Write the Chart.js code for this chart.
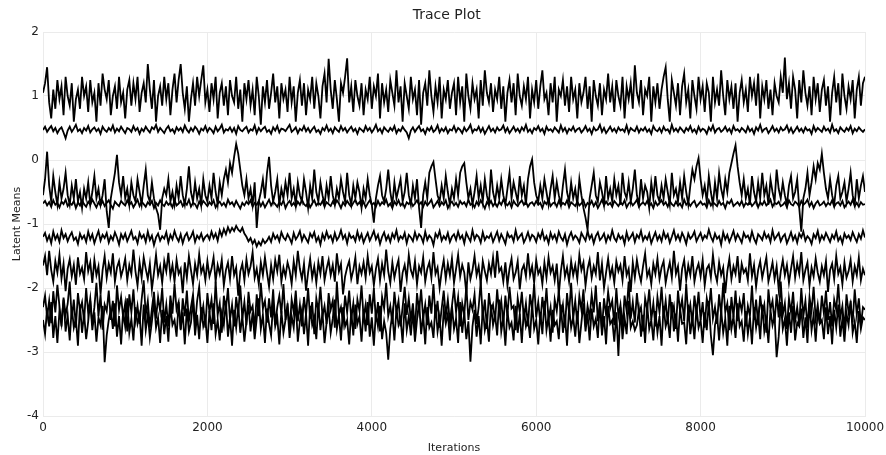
<!DOCTYPE html>
<html>
<head>
<meta charset="utf-8">
<script src="https://cdn.jsdelivr.net/npm/chart.js@4/dist/chart.umd.min.js"></script>
<style>
html,body{margin:0;padding:0;background:#fff;}
#wrap{width:886px;height:455px;}
</style>
</head>
<body>
<div id="wrap"><canvas id="c" width="886" height="455"></canvas></div>
<script>
// Iteration step between stored draws (0..10000)
const iterStep = 25;
const xTicks = [0, 2000, 4000, 6000, 8000, 10000];
const yTicks = [-4, -3, -2, -1, 0, 1, 2];

const seriesA = [
1.05,1.2,1.45,0.9,0.65,1.1,0.8,1.25,0.95,1.15,0.7,1.3,1.0,0.85,1.2,0.6,0.95,1.1,0.8,1.3,
1.0,1.15,0.75,1.25,0.9,1.05,0.6,1.2,0.85,1.35,1.1,0.95,1.25,0.7,1.0,1.15,0.8,1.3,0.9,1.05,
0.65,1.1,1.25,0.85,1.2,0.95,1.3,0.75,1.05,1.2,0.9,1.5,1.1,0.8,1.25,0.6,1.0,1.15,0.85,1.3,
0.95,1.2,0.7,1.1,1.35,0.9,1.25,1.5,1.05,0.8,1.15,0.6,0.95,1.2,0.85,1.3,1.0,1.25,1.48,0.9,
1.1,0.75,1.2,0.95,1.3,0.65,1.05,1.2,0.85,1.15,0.7,1.25,1.0,0.9,1.3,0.8,1.1,0.6,1.2,0.95,
1.25,0.85,1.1,0.7,1.3,1.0,0.55,1.15,0.9,1.25,0.8,1.05,1.35,0.9,1.15,0.65,1.2,0.95,1.1,0.75,
1.3,0.9,1.15,0.6,1.05,1.25,0.85,1.2,0.7,1.1,0.95,1.3,0.8,1.2,1.0,0.65,1.15,1.35,0.9,1.58,
1.1,0.8,1.25,0.95,0.6,1.2,1.05,1.3,1.59,0.9,1.15,0.75,1.25,1.0,0.85,1.2,0.7,1.1,0.95,1.3,
0.8,1.15,1.0,1.35,0.65,1.2,0.9,1.1,0.75,1.25,1.05,0.85,1.4,0.9,1.15,0.6,1.2,1.0,0.8,1.3,
0.95,1.1,0.7,1.25,0.55,1.05,1.2,0.85,1.4,1.0,0.75,1.15,0.9,1.3,0.65,1.1,0.95,1.25,0.8,1.05,
1.2,0.7,1.3,0.9,1.15,0.6,1.35,1.0,0.8,1.2,0.95,1.1,0.65,1.25,0.85,1.4,1.05,0.9,1.2,0.75,
1.1,0.95,1.3,0.8,1.15,0.6,1.05,1.25,0.9,1.2,0.7,1.35,1.0,0.85,1.15,0.95,1.3,0.65,1.1,0.9,
1.25,0.8,1.15,1.4,0.95,1.05,0.7,1.2,0.9,1.3,0.6,1.1,1.0,1.25,0.85,1.15,0.75,1.3,0.95,1.1,
0.65,1.2,0.9,1.05,1.3,0.8,1.15,0.6,1.25,1.0,0.85,1.2,0.7,1.1,0.95,1.35,0.9,1.15,0.75,1.25,
1.0,0.85,1.3,0.65,1.15,0.95,1.2,0.8,1.48,1.05,0.9,1.25,0.7,1.1,1.0,1.3,0.6,1.15,0.9,1.2,
0.8,1.1,1.3,1.45,0.95,0.6,1.25,1.05,0.85,1.2,0.7,1.15,1.35,0.9,1.1,0.65,1.25,1.0,0.8,1.3,
0.95,1.15,0.75,1.2,1.05,0.6,1.3,0.9,1.1,0.85,1.4,1.0,0.7,1.25,0.95,1.15,0.8,1.2,0.6,1.05,
1.25,0.9,1.1,0.75,1.3,1.0,1.2,0.85,1.35,0.65,1.15,0.95,1.25,0.8,1.1,0.7,1.2,1.0,0.9,1.3,
1.05,1.6,0.95,1.2,0.8,1.3,1.1,0.65,1.25,0.9,1.4,1.05,0.85,1.15,0.7,1.3,0.95,1.2,0.75,1.1,
1.25,0.85,1.15,0.6,1.05,1.3,0.9,1.2,0.7,1.35,1.0,0.8,1.15,0.95,1.25,0.65,1.1,1.3,0.85,1.2,
1.3];

const seriesB = [
0.47,0.52,0.44,0.49,0.53,0.45,0.5,0.42,0.48,0.51,0.43,0.34,0.46,0.52,0.44,0.49,0.55,0.45,0.48,0.42,
0.5,0.46,0.53,0.43,0.48,0.51,0.45,0.49,0.41,0.52,0.47,0.44,0.5,0.46,0.54,0.43,0.49,0.45,0.52,0.47,
0.42,0.5,0.48,0.44,0.53,0.46,0.5,0.41,0.49,0.45,0.52,0.47,0.43,0.51,0.48,0.55,0.44,0.5,0.46,0.42,
0.49,0.53,0.45,0.48,0.42,0.51,0.46,0.5,0.44,0.54,0.47,0.43,0.5,0.45,0.52,0.48,0.41,0.49,0.46,0.53,
0.44,0.5,0.47,0.42,0.52,0.45,0.49,0.55,0.43,0.48,0.46,0.51,0.44,0.5,0.41,0.53,0.47,0.45,0.49,0.52,
0.43,0.48,0.46,0.54,0.42,0.5,0.45,0.49,0.52,0.44,0.47,0.41,0.51,0.46,0.53,0.43,0.49,0.48,0.45,0.5,
0.55,0.44,0.47,0.51,0.42,0.49,0.46,0.53,0.45,0.5,0.43,0.48,0.52,0.44,0.47,0.41,0.5,0.46,0.54,0.45,
0.49,0.42,0.51,0.47,0.44,0.53,0.46,0.5,0.43,0.48,0.52,0.45,0.49,0.41,0.5,0.47,0.44,0.53,0.46,0.5,
0.43,0.48,0.55,0.45,0.49,0.42,0.51,0.47,0.44,0.5,0.46,0.53,0.42,0.48,0.45,0.52,0.47,0.43,0.34,0.46,
0.51,0.44,0.49,0.53,0.45,0.48,0.41,0.5,0.46,0.52,0.44,0.47,0.54,0.43,0.49,0.45,0.51,0.42,0.48,0.46,
0.53,0.44,0.5,0.47,0.42,0.51,0.45,0.49,0.55,0.43,0.48,0.46,0.52,0.44,0.5,0.41,0.47,0.53,0.45,0.49,
0.43,0.51,0.46,0.48,0.54,0.44,0.5,0.42,0.47,0.52,0.45,0.49,0.43,0.51,0.46,0.55,0.44,0.48,0.42,0.5,
0.47,0.53,0.45,0.49,0.41,0.52,0.46,0.48,0.44,0.51,0.47,0.43,0.54,0.45,0.5,0.42,0.49,0.46,0.52,0.44,
0.48,0.5,0.43,0.47,0.53,0.45,0.49,0.41,0.51,0.46,0.48,0.55,0.44,0.5,0.42,0.47,0.52,0.45,0.49,0.43,
0.51,0.46,0.48,0.44,0.54,0.42,0.5,0.47,0.45,0.52,0.43,0.49,0.46,0.51,0.44,0.48,0.41,0.53,0.47,0.45,
0.5,0.43,0.52,0.46,0.48,0.42,0.55,0.45,0.49,0.44,0.51,0.47,0.43,0.5,0.46,0.53,0.44,0.48,0.42,0.52,
0.45,0.49,0.47,0.41,0.51,0.46,0.54,0.43,0.48,0.5,0.44,0.47,0.52,0.45,0.49,0.42,0.53,0.46,0.48,0.44,
0.5,0.47,0.43,0.52,0.45,0.49,0.41,0.51,0.46,0.55,0.44,0.48,0.5,0.42,0.47,0.53,0.45,0.49,0.43,0.51,
0.46,0.48,0.54,0.44,0.5,0.42,0.47,0.52,0.45,0.49,0.43,0.51,0.46,0.48,0.41,0.53,0.45,0.5,0.47,0.44,
0.52,0.46,0.49,0.43,0.55,0.45,0.48,0.42,0.51,0.47,0.44,0.5,0.46,0.53,0.42,0.49,0.45,0.51,0.47,0.44,
0.48];

const seriesC = [
-0.55,-0.3,0.13,-0.4,-0.65,-0.25,-0.5,-0.7,-0.35,-0.6,-0.45,-0.2,-0.55,-0.7,-0.4,-0.6,-0.3,-0.65,-0.5,-0.75,
-0.45,-0.6,-0.35,-0.7,-0.5,-0.25,-0.6,-0.45,-0.7,-0.55,-0.3,-0.8,-1.06,-0.6,-0.4,-0.2,0.08,-0.35,-0.55,-0.25,
-0.6,-0.45,-0.7,-0.35,-0.55,-0.65,-0.3,-0.5,-0.7,-0.4,-0.15,-0.55,-0.65,-0.35,-0.6,-0.75,-0.85,-1.09,-0.6,-0.45,
-0.55,-0.3,-0.65,-0.5,-0.7,-0.4,-0.6,-0.25,-0.55,-0.7,-0.45,-0.1,-0.5,-0.65,-0.35,-0.6,-0.45,-0.7,-0.3,-0.55,
-0.65,-0.4,-0.6,-0.2,-0.5,-0.7,-0.35,-0.55,-0.3,-0.15,-0.35,-0.05,-0.2,0.05,0.25,0.1,-0.15,-0.4,-0.55,-0.3,
-0.6,-0.45,-0.7,-0.35,-1.06,-0.65,-0.5,-0.3,-0.6,-0.2,0.05,-0.4,-0.65,-0.5,-0.3,-0.7,-0.45,-0.6,-0.35,-0.55,
-0.2,-0.6,-0.45,-0.7,-0.35,-0.55,-0.65,-0.3,-0.5,-0.75,-0.4,-0.6,-0.15,-0.5,-0.65,-0.35,-0.55,-0.7,-0.4,-0.6,
-0.25,-0.55,-0.7,-0.45,-0.6,-0.3,-0.5,-0.65,-0.2,-0.55,-0.7,-0.4,-0.6,-0.35,-0.5,-0.75,-0.45,-0.6,-0.3,-0.55,
-0.7,-0.98,-0.6,-0.4,-0.25,-0.55,-0.65,-0.45,-0.15,-0.5,-0.7,-0.35,-0.6,-0.45,-0.3,-0.65,-0.5,-0.2,-0.55,-0.7,
-0.4,-0.6,-0.3,-0.75,-1.06,-0.55,-0.35,-0.6,-0.2,-0.1,-0.03,-0.3,-0.55,-0.65,-0.4,-0.6,-0.25,-0.5,-0.7,-0.45,
-0.6,-0.3,-0.55,-0.2,-0.1,-0.05,-0.35,-0.6,-0.45,-0.7,-0.5,-0.25,-0.6,-0.4,-0.65,-0.3,-0.55,-0.7,-0.15,-0.5,
-0.65,-0.4,-0.6,-0.3,-0.55,-0.7,-0.45,-0.2,-0.6,-0.35,-0.5,-0.65,-0.25,-0.55,-0.4,-0.7,-0.3,-0.1,0.01,-0.35,
-0.55,-0.65,-0.4,-0.6,-0.3,-0.5,-0.7,-0.45,-0.25,-0.6,-0.35,-0.55,-0.7,-0.4,-0.15,-0.5,-0.65,-0.35,-0.6,-0.45,
-0.7,-0.3,-0.55,-0.75,-0.9,-1.09,-0.6,-0.4,-0.2,-0.55,-0.65,-0.35,-0.5,-0.7,-0.25,-0.6,-0.45,-0.65,-0.3,-0.55,
-0.4,-0.7,-0.2,-0.5,-0.6,-0.35,-0.65,-0.45,-0.15,-0.55,-0.7,-0.3,-0.6,-0.4,-0.5,-0.75,-0.35,-0.6,-0.25,-0.55,
-0.65,-0.4,-0.6,-0.3,-0.5,-0.7,-0.2,-0.55,-0.45,-0.65,-0.35,-0.6,-0.25,-0.5,-0.7,-0.4,-0.15,-0.3,-0.1,0.03,
-0.3,-0.55,-0.4,-0.65,-0.25,-0.5,-0.7,-0.35,-0.6,-0.2,-0.45,-0.6,-0.3,-0.5,-0.2,-0.05,0.1,0.23,-0.1,-0.35,
-0.55,-0.3,-0.6,-0.45,-0.7,-0.25,-0.5,-0.65,-0.35,-0.6,-0.2,-0.55,-0.4,-0.7,-0.3,-0.5,-0.65,-0.15,-0.45,-0.6,
-0.35,-0.55,-0.7,-0.4,-0.25,-0.6,-0.5,-0.3,-0.75,-1.12,-0.6,-0.45,-0.2,-0.55,-0.35,-0.1,-0.3,-0.05,-0.15,0.1,
-0.2,-0.45,-0.6,-0.3,-0.55,-0.7,-0.4,-0.25,-0.6,-0.5,-0.35,-0.65,-0.45,-0.2,-0.55,-0.7,-0.3,-0.6,-0.4,-0.25,
-0.5];

const seriesD = [
-0.68,-0.64,-0.71,-0.66,-0.73,-0.63,-0.7,-0.67,-0.74,-0.65,-0.69,-0.62,-0.72,-0.67,-0.7,-0.64,-0.75,-0.66,-0.71,-0.63,
-0.69,-0.73,-0.65,-0.7,-0.62,-0.68,-0.74,-0.66,-0.71,-0.64,-0.72,-0.67,-0.63,-0.7,-0.76,-0.65,-0.69,-0.72,-0.64,-0.68,
-0.71,-0.63,-0.7,-0.66,-0.74,-0.68,-0.62,-0.72,-0.65,-0.69,-0.73,-0.66,-0.7,-0.64,-0.75,-0.67,-0.71,-0.63,-0.69,-0.72,
-0.65,-0.7,-0.67,-0.74,-0.63,-0.71,-0.68,-0.64,-0.72,-0.66,-0.7,-0.62,-0.73,-0.67,-0.69,-0.75,-0.65,-0.71,-0.64,-0.68,
-0.72,-0.66,-0.7,-0.63,-0.74,-0.68,-0.65,-0.71,-0.67,-0.73,-0.62,-0.69,-0.66,-0.72,-0.64,-0.7,-0.76,-0.67,-0.71,-0.65,
-0.69,-0.63,-0.73,-0.67,-0.7,-0.64,-0.72,-0.66,-0.74,-0.68,-0.62,-0.71,-0.65,-0.69,-0.73,-0.66,-0.7,-0.63,-0.75,-0.68,
-0.64,-0.71,-0.67,-0.73,-0.65,-0.7,-0.62,-0.69,-0.72,-0.66,-0.74,-0.68,-0.63,-0.71,-0.67,-0.7,-0.64,-0.73,-0.66,-0.69,
-0.72,-0.65,-0.7,-0.63,-0.68,-0.75,-0.66,-0.71,-0.64,-0.69,-0.73,-0.67,-0.62,-0.7,-0.66,-0.72,-0.65,-0.74,-0.68,-0.63,
-0.7,-0.67,-0.73,-0.64,-0.71,-0.66,-0.69,-0.62,-0.72,-0.68,-0.75,-0.65,-0.7,-0.63,-0.71,-0.67,-0.74,-0.66,-0.69,-0.64,
-0.72,-0.68,-0.63,-0.7,-0.66,-0.73,-0.65,-0.71,-0.67,-0.62,-0.74,-0.69,-0.64,-0.72,-0.66,-0.7,-0.63,-0.75,-0.68,-0.65,
-0.71,-0.67,-0.73,-0.64,-0.69,-0.66,-0.72,-0.62,-0.7,-0.68,-0.74,-0.65,-0.71,-0.63,-0.69,-0.76,-0.66,-0.7,-0.64,-0.72,
-0.67,-0.73,-0.65,-0.7,-0.62,-0.68,-0.71,-0.66,-0.74,-0.64,-0.69,-0.72,-0.67,-0.63,-0.7,-0.65,-0.73,-0.68,-0.66,-0.71,
-0.64,-0.7,-0.67,-0.75,-0.65,-0.69,-0.62,-0.72,-0.68,-0.66,-0.73,-0.64,-0.71,-0.67,-0.7,-0.63,-0.74,-0.66,-0.69,-0.72,
-0.65,-0.71,-0.68,-0.63,-0.73,-0.67,-0.7,-0.64,-0.72,-0.66,-0.75,-0.69,-0.62,-0.71,-0.65,-0.7,-0.67,-0.73,-0.64,-0.68,
-0.72,-0.66,-0.7,-0.63,-0.74,-0.68,-0.65,-0.71,-0.67,-0.62,-0.73,-0.69,-0.66,-0.7,-0.64,-0.72,-0.68,-0.75,-0.65,-0.71,
-0.67,-0.63,-0.7,-0.66,-0.73,-0.64,-0.69,-0.72,-0.65,-0.71,-0.68,-0.74,-0.62,-0.7,-0.66,-0.72,-0.67,-0.64,-0.73,-0.69,
-0.65,-0.7,-0.68,-0.74,-0.63,-0.71,-0.66,-0.69,-0.72,-0.64,-0.7,-0.67,-0.75,-0.65,-0.68,-0.62,-0.72,-0.69,-0.66,-0.71,
-0.64,-0.73,-0.67,-0.7,-0.65,-0.72,-0.68,-0.63,-0.74,-0.66,-0.7,-0.64,-0.71,-0.68,-0.62,-0.73,-0.67,-0.69,-0.65,-0.72,
-0.7,-0.66,-0.74,-0.63,-0.69,-0.71,-0.65,-0.68,-0.73,-0.64,-0.7,-0.67,-0.62,-0.72,-0.66,-0.75,-0.68,-0.64,-0.71,-0.69,
-0.65,-0.72,-0.67,-0.7,-0.63,-0.73,-0.68,-0.66,-0.71,-0.64,-0.74,-0.69,-0.65,-0.7,-0.62,-0.72,-0.67,-0.73,-0.66,-0.7,
-0.69];

const seriesE = [
-1.2,-1.14,-1.26,-1.18,-1.3,-1.12,-1.24,-1.17,-1.28,-1.1,-1.22,-1.16,-1.27,-1.19,-1.13,-1.25,-1.21,-1.31,-1.15,-1.23,
-1.18,-1.28,-1.12,-1.24,-1.16,-1.3,-1.2,-1.11,-1.26,-1.17,-1.22,-1.14,-1.29,-1.19,-1.25,-1.13,-1.21,-1.32,-1.16,-1.23,
-1.15,-1.27,-1.19,-1.11,-1.24,-1.2,-1.3,-1.14,-1.22,-1.17,-1.28,-1.12,-1.25,-1.18,-1.33,-1.21,-1.15,-1.26,-1.19,-1.23,
-1.13,-1.29,-1.17,-1.24,-1.11,-1.21,-1.27,-1.16,-1.3,-1.19,-1.14,-1.25,-1.2,-1.12,-1.28,-1.18,-1.23,-1.15,-1.26,-1.2,
-1.17,-1.24,-1.12,-1.22,-1.15,-1.26,-1.1,-1.19,-1.08,-1.16,-1.05,-1.13,-1.06,-1.11,-1.03,-1.09,-1.12,-1.06,-1.15,-1.2,
-1.27,-1.22,-1.31,-1.25,-1.35,-1.28,-1.33,-1.24,-1.3,-1.26,-1.2,-1.28,-1.15,-1.23,-1.18,-1.27,-1.13,-1.21,-1.25,-1.16,
-1.22,-1.3,-1.14,-1.24,-1.19,-1.11,-1.26,-1.17,-1.23,-1.29,-1.15,-1.21,-1.13,-1.27,-1.2,-1.32,-1.16,-1.24,-1.12,-1.22,
-1.18,-1.28,-1.14,-1.25,-1.2,-1.1,-1.23,-1.17,-1.3,-1.15,-1.22,-1.19,-1.27,-1.12,-1.24,-1.16,-1.29,-1.21,-1.14,-1.26,
-1.19,-1.11,-1.24,-1.17,-1.31,-1.2,-1.13,-1.25,-1.18,-1.28,-1.15,-1.22,-1.1,-1.26,-1.19,-1.23,-1.14,-1.3,-1.17,-1.21,
-1.27,-1.13,-1.24,-1.16,-1.2,-1.29,-1.12,-1.25,-1.18,-1.22,-1.33,-1.15,-1.21,-1.11,-1.26,-1.19,-1.24,-1.14,-1.28,-1.2,
-1.16,-1.25,-1.12,-1.23,-1.18,-1.3,-1.14,-1.21,-1.27,-1.1,-1.24,-1.17,-1.2,-1.29,-1.13,-1.25,-1.19,-1.22,-1.15,-1.28,
-1.2,-1.12,-1.26,-1.16,-1.23,-1.31,-1.14,-1.21,-1.18,-1.27,-1.1,-1.24,-1.19,-1.15,-1.29,-1.22,-1.13,-1.25,-1.17,-1.2,
-1.28,-1.15,-1.22,-1.11,-1.25,-1.19,-1.3,-1.14,-1.23,-1.17,-1.27,-1.12,-1.21,-1.26,-1.16,-1.32,-1.2,-1.13,-1.24,-1.18,
-1.22,-1.29,-1.14,-1.2,-1.26,-1.11,-1.23,-1.17,-1.3,-1.19,-1.13,-1.25,-1.21,-1.15,-1.28,-1.18,-1.24,-1.1,-1.22,-1.27,
-1.16,-1.23,-1.19,-1.31,-1.13,-1.25,-1.2,-1.14,-1.28,-1.17,-1.22,-1.11,-1.26,-1.19,-1.24,-1.15,-1.3,-1.21,-1.13,-1.25,
-1.18,-1.27,-1.12,-1.22,-1.16,-1.29,-1.2,-1.1,-1.24,-1.17,-1.26,-1.14,-1.21,-1.31,-1.15,-1.23,-1.19,-1.12,-1.27,-1.2,
-1.14,-1.25,-1.18,-1.22,-1.09,-1.2,-1.27,-1.15,-1.23,-1.19,-1.32,-1.13,-1.24,-1.17,-1.28,-1.2,-1.11,-1.25,-1.16,-1.22,
-1.29,-1.14,-1.21,-1.18,-1.26,-1.12,-1.23,-1.3,-1.16,-1.2,-1.25,-1.13,-1.22,-1.17,-1.28,-1.1,-1.24,-1.19,-1.14,-1.27,
-1.2,-1.16,-1.3,-1.22,-1.13,-1.25,-1.18,-1.29,-1.15,-1.21,-1.12,-1.26,-1.19,-1.23,-1.31,-1.16,-1.22,-1.11,-1.27,-1.18,
-1.24,-1.14,-1.21,-1.28,-1.17,-1.23,-1.12,-1.26,-1.2,-1.3,-1.15,-1.22,-1.18,-1.25,-1.13,-1.21,-1.28,-1.16,-1.23,-1.1,
-1.21];

const seriesF = [
-1.65,-1.5,-1.8,-1.42,-1.72,-1.9,-1.58,-1.76,-1.48,-1.85,-1.62,-2.05,-1.7,-1.55,-1.82,-1.64,-1.95,-1.52,-1.78,-1.68,
-1.86,-1.44,-1.74,-1.6,-1.92,-1.56,-1.8,-1.66,-2.1,-1.72,-1.5,-1.84,-1.62,-1.76,-1.46,-1.9,-1.68,-1.58,-1.82,-1.7,
-1.54,-1.88,-1.64,-1.78,-1.4,-1.74,-1.96,-1.6,-1.84,-1.52,-1.7,-1.86,-1.62,-2.02,-1.76,-1.48,-1.8,-1.66,-1.92,-1.58,
-1.74,-1.45,-1.82,-1.64,-1.9,-1.56,-1.78,-1.7,-2.08,-1.6,-1.84,-1.5,-1.72,-1.94,-1.62,-1.8,-1.47,-1.76,-1.66,-1.88,
-1.58,-1.82,-1.7,-1.52,-1.9,-1.64,-1.78,-1.56,-1.96,-1.72,-1.6,-1.86,-1.5,-1.8,-1.68,-2.12,-1.74,-1.62,-1.88,-1.55,
-1.78,-1.66,-1.44,-1.84,-1.7,-1.94,-1.6,-1.8,-1.52,-1.76,-1.98,-1.64,-1.86,-1.56,-1.74,-1.48,-1.9,-1.68,-1.82,-1.6,
-1.72,-1.94,-1.58,-1.8,-1.42,-1.7,-1.86,-1.62,-2.04,-1.76,-1.54,-1.84,-1.66,-1.92,-1.6,-1.78,-1.5,-1.88,-1.7,-1.56,
-1.8,-1.64,-1.9,-1.46,-1.74,-1.62,-2.1,-1.82,-1.68,-1.58,-1.86,-1.72,-1.52,-1.94,-1.66,-1.78,-1.6,-1.84,-1.5,-1.76,
-1.66,-1.96,-1.7,-1.54,-1.88,-1.62,-1.8,-1.4,-1.74,-1.92,-1.6,-1.84,-1.68,-1.56,-2.06,-1.76,-1.64,-1.86,-1.48,-1.72,
-1.82,-1.58,-1.94,-1.66,-1.76,-1.52,-1.9,-1.7,-1.6,-1.84,-1.44,-1.78,-1.68,-2.0,-1.74,-1.56,-1.86,-1.62,-1.8,-1.54,
-1.92,-1.7,-1.48,-1.82,-1.64,-1.76,-2.08,-1.6,-1.86,-1.72,-1.5,-1.8,-1.66,-1.94,-1.58,-1.74,-1.88,-1.62,-1.78,-1.52,
-1.84,-1.42,-1.74,-1.68,-1.9,-1.6,-1.96,-1.7,-1.54,-1.86,-1.76,-1.58,-2.02,-1.72,-1.64,-1.82,-1.46,-1.8,-1.66,-1.92,
-1.56,-1.78,-1.7,-1.94,-1.6,-1.84,-1.52,-1.76,-1.66,-1.88,-1.62,-2.1,-1.74,-1.5,-1.82,-1.68,-1.9,-1.58,-1.8,-1.64,
-1.86,-1.48,-1.72,-1.6,-1.96,-1.7,-1.56,-1.84,-1.66,-1.78,-1.44,-1.88,-1.62,-2.0,-1.76,-1.54,-1.82,-1.68,-1.92,-1.58,
-1.74,-1.64,-1.88,-1.5,-1.8,-1.7,-2.06,-1.6,-1.84,-1.56,-1.76,-1.9,-1.66,-1.46,-1.82,-1.72,-1.94,-1.62,-1.78,-1.54,
-1.86,-1.68,-1.58,-1.92,-1.74,-1.6,-1.84,-1.42,-1.78,-1.66,-2.04,-1.7,-1.56,-1.88,-1.64,-1.8,-1.5,-1.9,-1.72,-1.62,
-1.82,-1.56,-1.96,-1.7,-1.64,-1.84,-1.48,-1.76,-1.9,-1.6,-1.8,-1.68,-2.08,-1.74,-1.54,-1.86,-1.66,-1.78,-1.5,-1.92,
-1.62,-1.76,-1.7,-1.88,-1.46,-1.82,-1.64,-1.98,-1.72,-1.58,-1.84,-1.68,-1.52,-1.9,-1.76,-1.6,-1.86,-1.66,-2.02,-1.74,
-1.56,-1.8,-1.64,-1.92,-1.7,-1.5,-1.84,-1.62,-1.78,-1.44,-1.88,-1.72,-1.6,-1.96,-1.68,-1.82,-1.54,-1.76,-1.9,-1.66,
-1.8,-1.58,-2.06,-1.72,-1.62,-1.86,-1.5,-1.78,-1.68,-1.94,-1.6,-1.84,-1.74,-1.56,-1.9,-1.66,-1.8,-1.52,-1.88,-1.7,
-1.8];

const seriesG = [
-2.3,-2.12,-2.45,-2.2,-2.55,-2.05,-2.38,-1.95,-2.28,-2.6,-2.15,-2.42,-2.25,-1.9,-2.48,-2.18,-2.62,-2.08,-2.35,-2.22,
-2.52,-2.0,-2.4,-2.16,-2.58,-2.3,-1.92,-2.44,-2.1,-2.65,-2.26,-2.36,-2.04,-2.5,-2.2,-2.6,-1.96,-2.34,-2.14,-2.46,
-2.24,-2.68,-2.1,-2.38,-2.02,-2.5,-2.28,-2.56,-2.18,-1.88,-2.42,-2.2,-2.62,-2.32,-2.06,-2.48,-2.14,-2.36,-2.0,-2.54,
-2.26,-2.6,-2.12,-2.4,-1.94,-2.34,-2.22,-2.66,-2.16,-2.44,-2.04,-2.52,-2.3,-2.1,-2.58,-2.2,-1.98,-2.46,-2.28,-2.62,
-2.08,-2.38,-2.18,-2.56,-1.9,-2.42,-2.24,-2.7,-2.12,-2.34,-2.0,-2.5,-2.26,-2.6,-2.14,-2.4,-1.96,-2.48,-2.22,-2.58,
-2.06,-2.36,-2.28,-2.64,-2.1,-2.44,-1.92,-2.32,-2.2,-2.54,-2.16,-2.46,-2.02,-2.58,-2.3,-2.12,-2.4,-1.94,-2.5,-2.24,
-2.66,-2.18,-2.38,-2.04,-2.52,-2.26,-2.6,-2.14,-2.42,-2.0,-2.48,-2.22,-2.72,-2.16,-2.36,-1.98,-2.44,-2.28,-2.56,-2.08,
-2.34,-2.2,-2.62,-1.9,-2.42,-2.3,-2.54,-2.12,-2.38,-2.04,-2.48,-2.24,-2.64,-2.18,-2.36,-1.96,-2.46,-2.26,-2.58,-2.1,
-2.4,-2.0,-2.52,-2.22,-2.68,-2.14,-2.32,-1.92,-2.44,-2.28,-2.56,-2.06,-2.38,-2.2,-2.6,-2.3,-1.98,-2.42,-2.16,-2.5,
-2.24,-2.66,-2.08,-2.36,-2.02,-2.48,-2.26,-2.58,-2.12,-2.4,-1.94,-2.46,-2.2,-2.62,-2.32,-2.04,-2.44,-2.18,-2.54,-2.28,
-2.0,-2.38,-2.14,-2.6,-2.24,-2.42,-1.96,-2.5,-2.22,-2.34,-2.1,-2.56,-2.3,-1.9,-2.46,-2.18,-2.64,-2.08,-2.36,-2.26,
-2.52,-2.02,-2.4,-2.2,-2.58,-2.12,-2.44,-1.98,-2.32,-2.28,-2.66,-2.16,-2.38,-2.06,-2.48,-2.24,-2.6,-2.1,-2.34,-1.94,
-2.46,-2.22,-2.54,-2.14,-2.42,-2.0,-2.5,-2.3,-2.7,-2.18,-2.36,-2.04,-2.44,-2.26,-2.62,-2.08,-2.4,-1.92,-2.48,-2.2,
-2.56,-2.12,-2.34,-2.02,-2.6,-2.28,-2.46,-2.1,-2.38,-1.96,-2.52,-2.24,-2.66,-2.16,-2.42,-2.06,-2.32,-2.2,-2.58,-2.0,
-2.44,-2.26,-2.62,-2.12,-2.36,-1.9,-2.48,-2.22,-2.54,-2.08,-2.4,-2.3,-2.68,-2.16,-2.34,-2.02,-2.5,-2.24,-2.6,-2.14,
-2.38,-1.98,-2.46,-2.2,-2.56,-2.1,-2.42,-2.28,-2.64,-2.04,-2.36,-2.18,-2.52,-1.94,-2.44,-2.26,-2.58,-2.12,-2.4,-2.06,
-2.5,-2.22,-2.62,-2.16,-2.34,-2.0,-2.48,-2.3,-2.56,-2.1,-2.42,-1.92,-2.38,-2.24,-2.66,-2.14,-2.46,-2.04,-2.52,-2.2,
-2.36,-2.08,-2.6,-2.28,-2.44,-1.96,-2.5,-2.18,-2.58,-2.12,-2.4,-2.26,-2.7,-2.02,-2.34,-2.2,-2.54,-2.1,-2.46,-1.9,
-2.42,-2.24,-2.64,-2.16,-2.38,-2.06,-2.52,-2.3,-2.58,-2.0,-2.44,-2.2,-2.62,-2.14,-2.36,-1.98,-2.48,-2.26,-2.56,-2.12,
-2.4,-2.04,-2.5,-2.22,-2.6,-2.18,-2.34,-1.94,-2.46,-2.28,-2.66,-2.1,-2.38,-2.24,-2.54,-2.02,-2.42,-2.16,-2.58,-2.3,
-2.34];

const seriesH = [
-2.5,-2.72,-2.32,-2.6,-2.22,-2.78,-2.44,-2.86,-2.36,-2.56,-2.18,-2.68,-2.42,-2.82,-2.3,-2.62,-2.48,-2.9,-2.26,-2.7,
-2.4,-2.8,-2.52,-2.2,-2.66,-2.38,-2.84,-2.46,-2.58,-2.28,-3.16,-2.74,-2.5,-2.34,-2.64,-2.24,-2.76,-2.44,-2.88,-2.36,
-2.6,-2.16,-2.7,-2.48,-2.82,-2.3,-2.56,-2.42,-2.9,-2.26,-2.66,-2.4,-2.78,-2.52,-2.2,-2.62,-2.46,-2.86,-2.34,-2.72,
-2.44,-2.84,-2.28,-2.58,-2.5,-2.76,-2.22,-2.64,-2.38,-2.88,-2.32,-2.68,-2.54,-2.18,-2.74,-2.42,-2.8,-2.3,-2.6,-2.48,
-2.86,-2.36,-2.66,-2.24,-2.72,-2.5,-2.82,-2.4,-2.58,-2.2,-2.76,-2.46,-2.9,-2.34,-2.62,-2.28,-2.7,-2.44,-2.84,-2.52,
-2.26,-2.68,-2.38,-2.8,-2.48,-2.16,-2.64,-2.42,-2.86,-2.32,-2.56,-2.74,-2.22,-2.6,-2.46,-2.88,-2.36,-2.7,-2.5,-2.3,
-2.78,-2.44,-2.62,-2.2,-2.84,-2.52,-2.34,-2.72,-2.4,-2.9,-2.28,-2.58,-2.46,-2.8,-2.24,-2.66,-2.38,-2.86,-2.54,-2.32,
-2.7,-2.48,-2.18,-2.64,-2.42,-2.82,-2.3,-2.6,-2.5,-2.88,-2.36,-2.74,-2.26,-2.56,-2.44,-2.84,-2.34,-2.68,-2.22,-2.76,
-2.46,-2.9,-2.38,-2.6,-2.28,-2.8,-2.52,-2.7,-3.12,-2.64,-2.4,-2.82,-2.32,-2.58,-2.48,-2.86,-2.24,-2.66,-2.44,-2.74,
-2.36,-2.84,-2.5,-2.2,-2.72,-2.42,-2.88,-2.3,-2.62,-2.54,-2.78,-2.26,-2.68,-2.46,-2.9,-2.34,-2.56,-2.4,-2.82,-2.28,
-2.64,-2.48,-2.86,-2.22,-2.7,-2.38,-2.8,-2.52,-3.15,-2.6,-2.34,-2.76,-2.44,-2.88,-2.3,-2.66,-2.5,-2.84,-2.26,-2.58,
-2.42,-2.74,-2.18,-2.68,-2.46,-2.9,-2.36,-2.62,-2.54,-2.82,-2.28,-2.7,-2.4,-2.86,-2.32,-2.6,-2.48,-2.78,-2.24,-2.64,
-2.5,-2.88,-2.38,-2.72,-2.2,-2.66,-2.44,-2.84,-2.34,-2.58,-2.52,-2.8,-2.26,-2.7,-2.42,-2.9,-2.3,-2.62,-2.46,-2.76,
-2.36,-2.86,-2.54,-2.24,-2.68,-2.4,-2.82,-2.32,-2.6,-2.48,-2.78,-2.22,-2.74,-2.44,-2.88,-2.28,-2.56,-2.5,-2.84,-2.38,
-3.06,-2.3,-2.8,-2.46,-2.72,-2.2,-2.62,-2.52,-2.66,-2.58,-2.34,-2.76,-2.42,-2.86,-2.26,-2.64,-2.5,-2.82,-2.36,-2.7,
-2.44,-2.9,-2.28,-2.6,-2.48,-2.78,-2.22,-2.68,-2.4,-2.84,-2.32,-2.56,-2.54,-2.88,-2.26,-2.72,-2.46,-2.8,-2.3,-2.62,
-2.5,-2.86,-2.38,-2.66,-2.2,-2.74,-3.05,-2.58,-2.42,-2.82,-2.34,-2.7,-2.48,-2.9,-2.28,-2.64,-2.44,-2.78,-2.24,-2.6,
-2.52,-2.84,-2.36,-2.72,-2.46,-2.88,-2.3,-2.62,-2.4,-2.8,-2.26,-2.68,-2.5,-2.86,-2.34,-2.58,-2.44,-3.08,-2.76,-2.22,
-2.64,-2.48,-2.9,-2.38,-2.7,-2.28,-2.82,-2.54,-2.6,-2.32,-2.78,-2.46,-2.86,-2.24,-2.66,-2.42,-2.84,-2.36,-2.56,-2.5,
-2.8,-2.3,-2.72,-2.44,-2.88,-2.34,-2.62,-2.26,-2.76,-2.48,-2.84,-2.4,-2.58,-2.2,-2.7,-2.52,-2.86,-2.36,-2.64,-2.46,
-2.5];

const allSeries = [seriesA, seriesB, seriesC, seriesD, seriesE, seriesF, seriesG, seriesH];

const FONT = '"DejaVu Sans", Verdana, sans-serif';
const GRID = '#ebebeb';
const TXT = '#222';

const datasets = allSeries.map((s, k) => ({
  label: 'Latent ' + (k + 1),
  data: s.map((v, i) => ({ x: i * iterStep, y: v })),
  borderColor: '#000',
  backgroundColor: '#000',
  borderWidth: 1.8,
  pointRadius: 0,
  tension: 0,
  fill: false,
  yAxisID: 'y'
}));

new Chart(document.getElementById('c'), {
  type: 'line',
  data: { datasets },
  options: {
    responsive: false,
    animation: false,
    events: [],
    layout: { padding: { left: 7.4, right: 0, top: 0, bottom: 0 } },
    plugins: {
      legend: { display: false },
      tooltip: { enabled: false },
      title: {
        display: true,
        text: 'Trace Plot',
        color: TXT,
        font: { family: FONT, size: 14, weight: 'normal' },
        padding: { top: 6.6, bottom: 8.6 }
      }
    },
    scales: {
      x: {
        type: 'linear',
        min: 0, max: 10000,
        afterBuildTicks: (sc) => { sc.ticks = xTicks.map(v => ({ value: v })); },
        afterFit: (sc) => { sc.height = 39; sc.paddingLeft = 0; sc.paddingRight = 0; },
        ticks: { color: TXT, font: { family: FONT, size: 12 }, padding: 5, maxRotation: 0, autoSkip: false,
                 callback: (v) => String(v) },
        grid: { color: GRID, drawTicks: false, lineWidth: 1 },
        border: { color: GRID },
        title: { display: true, text: 'Iterations', color: TXT, font: { family: FONT, size: 11 }, padding: { top: 1.4, bottom: 0 } }
      },
      y: {
        type: 'linear',
        position: 'left',
        min: -4, max: 2,
        afterBuildTicks: (sc) => { sc.ticks = yTicks.map(v => ({ value: v })); },
        afterFit: (sc) => { sc.width = 35.6; },
        ticks: { color: TXT, font: { family: FONT, size: 12 }, padding: 4, autoSkip: false,
                 callback: (v) => String(v) },
        grid: { color: GRID, drawTicks: false, lineWidth: 1 },
        border: { color: GRID },
        title: { display: true, text: 'Latent Means', color: TXT, font: { family: FONT, size: 11 }, padding: { top: 3, bottom: 0 } }
      },
      yRight: {
        type: 'linear',
        position: 'right',
        min: -4, max: 2,
        afterFit: (sc) => { sc.width = 21; },
        ticks: { display: false },
        grid: { display: false, drawOnChartArea: false },
        border: { display: false }
      }
    }
  }
});
</script>
</body>
</html>
